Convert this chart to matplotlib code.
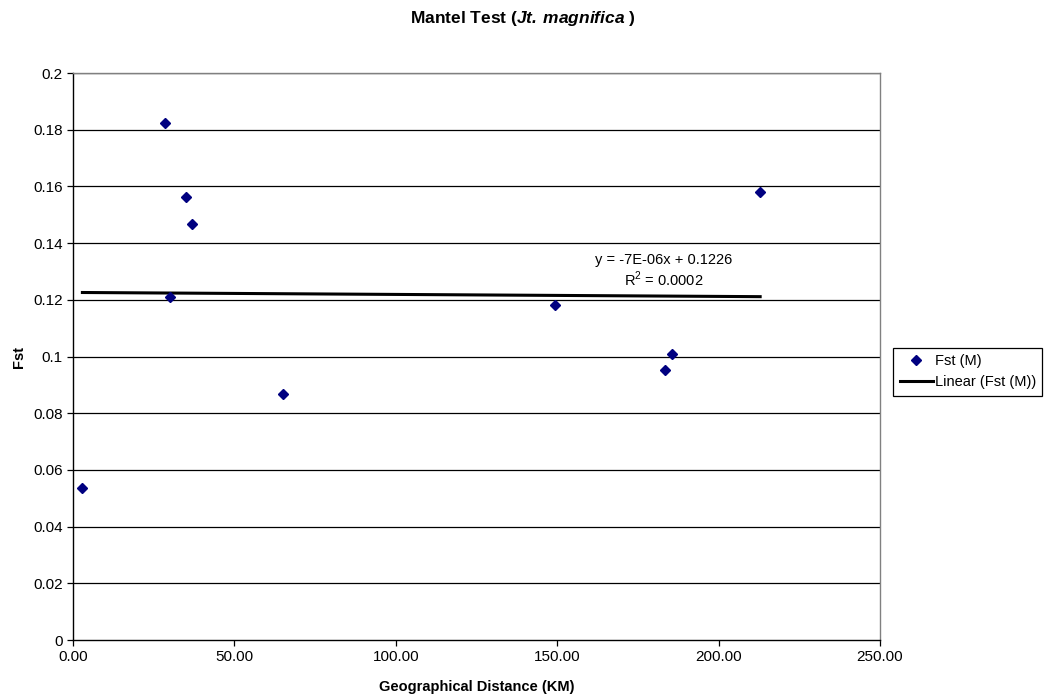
"""Mantel test scatter: Fst vs geographical distance, with linear trend."""
import matplotlib
matplotlib.use("Agg")
import matplotlib.pyplot as plt
import numpy as np

plt.rcParams["font.family"] = ["Liberation Sans", "DejaVu Sans"]
plt.rcParams["mathtext.fontset"] = "custom"
plt.rcParams["mathtext.rm"] = "Liberation Sans"
plt.rcParams["mathtext.bfit"] = "Liberation Sans:italic:bold"

# data
distance_km = [2.9, 28.4, 29.9, 35.0, 36.8, 64.9, 149.2, 183.4, 185.6, 212.9]
fst = [0.0536, 0.1822, 0.1211, 0.1562, 0.1466, 0.0868, 0.1183, 0.0951, 0.1008, 0.1579]

# trend coefficients as printed on the chart
slope = -7e-06
intercept = 0.1226
r_squared = 0.0002

x_ticks = [0, 50, 100, 150, 200, 250]
y_ticks = [0, 0.02, 0.04, 0.06, 0.08, 0.1, 0.12, 0.14, 0.16, 0.18, 0.2]
y_tick_labels = ["0", "0.02", "0.04", "0.06", "0.08", "0.1", "0.12", "0.14", "0.16", "0.18", "0.2"]

fig = plt.figure(figsize=(10.45, 7.0), dpi=100)
ax = fig.add_axes([0.0699, 0.0857, 0.7721, 0.81])

for y in y_ticks[1:]:
    ax.axhline(y, color="#000000", linewidth=0.9, zorder=1)

pts, = ax.plot(distance_km, fst, linestyle="none", marker="D", markersize=5.5,
               color="#000080", zorder=4, label="Fst (M)")

xs = np.array([min(distance_km), max(distance_km)])
trend, = ax.plot(xs, slope * xs + intercept, color="#000000", linewidth=2.2,
                 zorder=3, label="Linear (Fst (M))")

ax.text(183, 0.1315, f"y = {slope:.0E}x + {intercept}",
        ha="center", va="bottom", fontsize=10.5)
ax.text(183, 0.1305, "R$^2$ = " + f"{r_squared:.4f}", ha="center", va="top", fontsize=10.5)

ax.set_xlim(0, 250)
ax.set_ylim(0, 0.2)
ax.set_xticks(x_ticks)
ax.set_xticklabels([f"{v:.2f}" for v in x_ticks])
ax.set_yticks(y_ticks)
ax.set_yticklabels(y_tick_labels)
ax.tick_params(labelsize=11, length=4, width=0.9, color="#000000", direction="out")

for side in ("left", "bottom"):
    ax.spines[side].set_color("#000000")
    ax.spines[side].set_linewidth(1.0)
for side in ("top", "right"):
    ax.spines[side].set_color("#808080")
    ax.spines[side].set_linewidth(1.0)

ax.set_xlabel("Geographical Distance (KM)", fontsize=10.5, fontweight="bold", labelpad=11)
ax.set_ylabel("Fst", fontsize=10.5, fontweight="bold", labelpad=5)

fig.text(0.5, 0.974, r"Mantel Test ($\mathbfit{Jt.\,magnifica}$ )", ha="center",
         va="center", fontsize=12.5, fontweight="bold")

leg = fig.legend(handles=[pts, trend], loc="upper left", bbox_to_anchor=(0.8545, 0.503),
                 fontsize=10.5, frameon=True, fancybox=False, edgecolor="#000000",
                 framealpha=1, borderpad=0.45, handlelength=2.3, handletextpad=0.1,
                 labelspacing=0.45, borderaxespad=0)
leg.get_frame().set_linewidth(0.9)

fig.savefig("out.png", dpi=100)
